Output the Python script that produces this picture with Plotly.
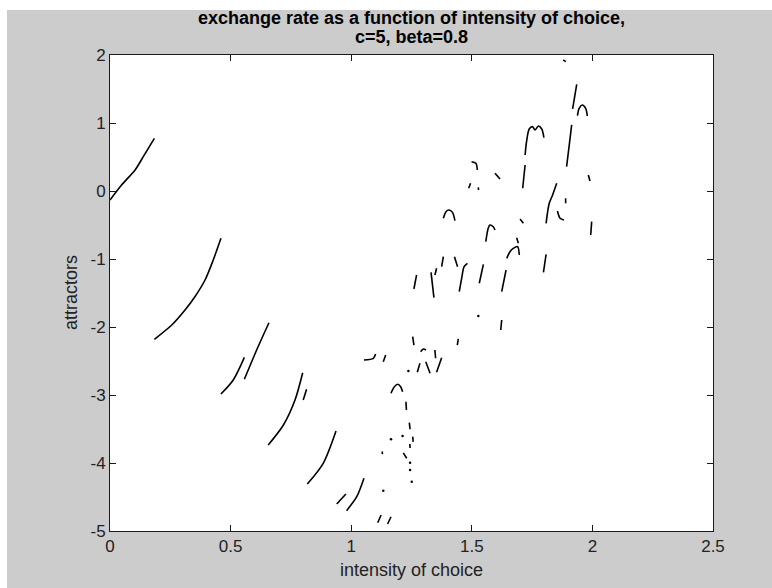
import plotly.graph_objects as go

# ---------------- data ----------------
x_ticks = [0, 0.5, 1, 1.5, 2, 2.5]
x_tick_labels = ["0", "0.5", "1", "1.5", "2", "2.5"]
y_ticks = [-5, -4, -3, -2, -1, 0, 1, 2]
y_tick_labels = ["-5", "-4", "-3", "-2", "-1", "0", "1", "2"]

title_line1 = "exchange rate as a function of intensity of choice,"
title_line2 = "c=5, beta=0.8"
x_label = "intensity of choice"
y_label = "attractors"

# attractor branches (intensity of choice -> attractor values)
branch_x = [
    [0.000, 0.048, 0.104, 0.138, 0.184],
    [0.184, 0.256, 0.311, 0.352, 0.394, 0.428, 0.460],
    [0.460, 0.511, 0.557],
    [0.557, 0.608, 0.659],
    [0.656, 0.719, 0.767, 0.799],
    [0.801, 0.815],
    [0.818, 0.884, 0.937],
    [0.940, 0.978],
    [0.981, 1.023, 1.053],
    [1.110, 1.124],
    [1.151, 1.165],
    [1.053, 1.092, 1.101],
    [1.133, 1.143],
    [1.165, 1.179, 1.193, 1.205, 1.213],
    [1.227, 1.229],
    [1.241, 1.244],
    [1.255, 1.257],
    [1.243, 1.244],
    [1.216, 1.230],
    [1.129, 1.129],
    [1.879, 1.890],
    [1.935, 1.918],
    [1.938, 1.945, 1.958, 1.972, 1.979],
    [1.721, 1.727, 1.738, 1.752, 1.762, 1.776, 1.790, 1.799],
    [1.914, 1.904, 1.893],
    [1.721, 1.711],
    [1.499, 1.517, 1.523],
    [1.596, 1.617],
    [1.495, 1.487],
    [1.527, 1.528],
    [1.983, 1.990],
    [1.852, 1.835, 1.821, 1.808],
    [1.889, 1.889],
    [1.855, 1.866, 1.882],
    [1.382, 1.393, 1.405, 1.420, 1.430],
    [1.700, 1.714],
    [1.558, 1.568, 1.575, 1.589, 1.596],
    [1.997, 1.993],
    [1.645, 1.658, 1.672, 1.690, 1.697],
    [1.686, 1.693],
    [1.808, 1.797],
    [1.271, 1.260],
    [1.331, 1.343],
    [1.354, 1.347],
    [1.382, 1.375],
    [1.428, 1.441],
    [1.482, 1.468, 1.458, 1.448],
    [1.548, 1.531],
    [1.642, 1.624],
    [1.624, 1.620],
    [1.444, 1.440],
    [1.255, 1.260],
    [1.288, 1.299, 1.310],
    [1.347, 1.350],
    [1.309, 1.327],
    [1.375, 1.354],
    [1.285, 1.274],
]
branch_y = [
    [-0.132, 0.088, 0.309, 0.505, 0.775],
    [-2.181, -1.971, -1.750, -1.555, -1.309, -1.015, -0.696],
    [-2.985, -2.779, -2.446],
    [-2.769, -2.338, -1.937],
    [-3.735, -3.441, -3.074, -2.672],
    [-3.074, -2.916],
    [-4.309, -4.004, -3.529],
    [-4.603, -4.456],
    [-4.701, -4.496, -4.225],
    [-4.878, -4.765],
    [-4.897, -4.790],
    [-2.485, -2.460, -2.397],
    [-2.510, -2.412],
    [-2.975, -2.878, -2.843, -2.878, -2.951],
    [-3.100, -3.220],
    [-3.407, -3.504],
    [-3.613, -3.690],
    [-3.720, -3.780],
    [-3.850, -3.930],
    [-3.830, -3.870],
    [1.926, 1.902],
    [1.569, 1.206],
    [1.108, 1.216, 1.265, 1.216, 1.103],
    [0.529, 0.725, 0.912, 0.946, 0.897, 0.956, 0.912, 0.784],
    [0.971, 0.676, 0.358],
    [0.382, 0.040],
    [0.431, 0.407, 0.309],
    [0.260, 0.176],
    [0.113, 0.040],
    [0.054, 0.015],
    [0.235, 0.147],
    [0.113, -0.059, -0.181, -0.475],
    [-0.107, -0.181],
    [-0.294, -0.401, -0.426],
    [-0.401, -0.304, -0.279, -0.314, -0.437],
    [-0.412, -0.475],
    [-0.745, -0.549, -0.500, -0.525, -0.574],
    [-0.451, -0.647],
    [-0.990, -0.893, -0.843, -0.819, -0.941],
    [-0.687, -0.769],
    [-0.931, -1.196],
    [-1.235, -1.441],
    [-1.196, -1.569],
    [-1.137, -1.235],
    [-0.966, -1.113],
    [-0.966, -1.113],
    [-1.063, -1.113, -1.284, -1.481],
    [-1.078, -1.357],
    [-1.162, -1.481],
    [-1.897, -2.044],
    [-2.176, -2.265],
    [-2.143, -2.265],
    [-2.363, -2.324, -2.338],
    [-2.338, -2.460],
    [-2.510, -2.681],
    [-2.451, -2.666],
    [-2.534, -2.666],
]

# isolated attractor points
dot_x = [1.133, 1.165, 1.213, 1.251, 1.244, 1.244, 1.527, 1.237]
dot_y = [-4.407, -3.652, -3.603, -4.275, -4.103, -3.996, -1.838, -2.647]

# ---------------- figure ----------------
fig = go.Figure()
for bx, by in zip(branch_x, branch_y):
    fig.add_trace(go.Scatter(x=bx, y=by, mode="lines",
                             line=dict(color="black", width=1.6,
                                       shape="spline", smoothing=0.8),
                             hoverinfo="skip", showlegend=False))
fig.add_trace(go.Scatter(x=dot_x, y=dot_y, mode="markers",
                         marker=dict(color="black", size=2.5),
                         hoverinfo="skip", showlegend=False))

W, H = 772, 588
L, R, T, B = 110, 59, 55, 57
pw, ph = W - L - R, H - T - B

def px2paper_x(px):
    return (px - L) / pw

def px2paper_y(py):
    return (H - B - py) / ph

FONT = "Liberation Sans, Arial, Helvetica, sans-serif"

axis_common = dict(showgrid=False, zeroline=False, showline=True, mirror="ticks",
                   linecolor="#1a1a1a", linewidth=1, ticks="inside", ticklen=6,
                   tickcolor="#1a1a1a", tickwidth=1,
                   tickfont=dict(family=FONT, size=17, color="#222222"))

fig.update_layout(
    width=W, height=H, autosize=False,
    margin=dict(l=L, r=R, t=T, b=B, pad=0),
    paper_bgcolor="#cccccc", plot_bgcolor="white",
    xaxis=dict(range=[0, 2.5], tickvals=x_ticks, ticktext=x_tick_labels, **axis_common),
    yaxis=dict(range=[-5, 2], tickvals=y_ticks, ticktext=y_tick_labels, **axis_common),
    shapes=[
        dict(type="rect", xref="paper", yref="paper", layer="below",
             x0=px2paper_x(0), x1=px2paper_x(W), y0=px2paper_y(10), y1=px2paper_y(0),
             fillcolor="white", line=dict(width=0)),
        dict(type="rect", xref="paper", yref="paper", layer="below",
             x0=px2paper_x(0), x1=px2paper_x(7), y0=px2paper_y(H), y1=px2paper_y(0),
             fillcolor="white", line=dict(width=0)),
    ],
    annotations=[
        dict(text="<b>" + title_line1 + "</b>", xref="paper", yref="paper",
             x=0.5, y=px2paper_y(18), xanchor="center", yanchor="middle",
             showarrow=False, font=dict(family=FONT, size=18, color="black")),
        dict(text="<b>" + title_line2 + "</b>", xref="paper", yref="paper",
             x=0.5, y=px2paper_y(37), xanchor="center", yanchor="middle",
             showarrow=False, font=dict(family=FONT, size=18, color="black")),
        dict(text=x_label, xref="paper", yref="paper",
             x=0.5, y=px2paper_y(570), xanchor="center", yanchor="middle",
             showarrow=False, font=dict(family=FONT, size=18, color="#222222")),
        dict(text=y_label, xref="paper", yref="paper", textangle=-90,
             x=px2paper_x(71), y=0.5, xanchor="center", yanchor="middle",
             showarrow=False, font=dict(family=FONT, size=18, color="#222222")),
    ],
)

fig.write_html("out.html")
